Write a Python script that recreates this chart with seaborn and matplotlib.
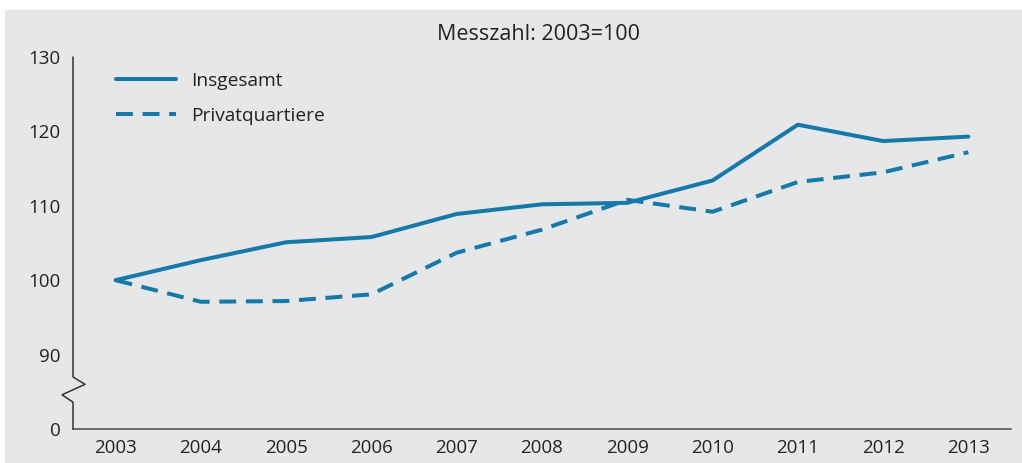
import pandas as pd
import matplotlib.pyplot as plt
import matplotlib.transforms as mtransforms
from matplotlib.patches import Rectangle
import seaborn as sns

# Werte (Messzahl: 2003=100)
jahre = [2003, 2004, 2005, 2006, 2007, 2008, 2009, 2010, 2011, 2012, 2013]
insgesamt = [100, 102.7, 105.1, 105.8, 108.9, 110.2, 110.4, 113.4, 120.9, 118.7, 119.3]
privatquartiere = [100, 97.1, 97.2, 98.1, 103.7, 106.8, 110.8, 109.2, 113.2, 114.5, 117.2]
serien = ["Insgesamt", "Privatquartiere"]

# y-Achse mit Bruch: Position 80 steht fuer 0
y_ticks = [80, 90, 100, 110, 120, 130]
y_labels = ["0", "90", "100", "110", "120", "130"]

df = pd.DataFrame({
    "Jahr": jahre * 2,
    "Wert": insgesamt + privatquartiere,
    "Serie": [serien[0]] * len(jahre) + [serien[1]] * len(jahre),
})

grau = "#e6e7e9"
blau = "#1778aa"
text_farbe = "#222222"
achse_farbe = "#555555"

sns.set_style("white")
plt.rcParams["font.family"] = ["Open Sans", "DejaVu Sans"]

fig = plt.figure(figsize=(10.22, 4.63), dpi=100)
fig.patches.append(Rectangle((5 / 1022, 0), 1, (463 - 10) / 463, transform=fig.transFigure,
                             facecolor=grau, edgecolor="none", zorder=-10))
ax = fig.add_axes([73 / 1022, 34 / 463, 938 / 1022, 372 / 463])
ax.set_facecolor("none")

sns.lineplot(data=df, x="Jahr", y="Wert", style="Serie", ax=ax,
             color=blau, linewidth=2.9,
             dashes={"Insgesamt": "", "Privatquartiere": (4.2, 2.4)})

ax.set_xlim(jahre[0] - 0.5, jahre[-1] + 0.5)
ax.set_ylim(80, 130)
ax.set_yticks(y_ticks)
ax.set_yticklabels(y_labels)
ax.set_xticks(jahre)
ax.set_xticklabels([str(j) for j in jahre])
ax.set_xticks([j - 0.5 for j in jahre] + [jahre[-1] + 0.5], minor=True)
ax.set_xlabel("")
ax.set_ylabel("")

ax.tick_params(axis="x", which="major", length=0, pad=7, labelsize=13.5, labelcolor=text_farbe)
ax.tick_params(axis="x", which="minor", length=5, width=1, color=achse_farbe, direction="out")
ax.tick_params(axis="y", length=5, width=1, color=achse_farbe, direction="out", pad=4,
               labelsize=13.5, labelcolor=text_farbe)

for s in ["top", "right", "left"]:
    ax.spines[s].set_visible(False)
ax.spines["bottom"].set_color(achse_farbe)
ax.spines["bottom"].set_linewidth(1.2)

# linke Achse mit Bruchzeichen
trans = mtransforms.blended_transform_factory(ax.transAxes, ax.transData)
bx = [0, 0, 0.0128, -0.0117, 0, 0]
by = [130, 87.0, 86.0, 84.6, 83.6, 80]
ax.plot(bx, by, transform=trans, color="#333333", linewidth=1.1, clip_on=False, zorder=5)

leg = ax.legend(loc="upper left", bbox_to_anchor=(43 / 938, 1 - 15 / 372), frameon=False,
                fontsize=13.8, handlelength=3.15, handletextpad=0.75, labelspacing=0.87,
                borderaxespad=0, borderpad=0)
for t in leg.get_texts():
    t.set_color(text_farbe)

fig.text(538 / 1022, 1 - 35 / 463, "Messzahl: 2003=100", ha="center", va="center",
         fontsize=15.5, color=text_farbe)

fig.savefig("out.png", dpi=100, facecolor="white")
